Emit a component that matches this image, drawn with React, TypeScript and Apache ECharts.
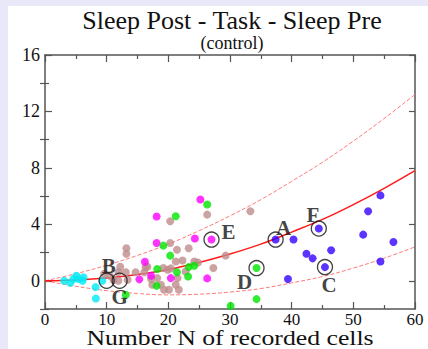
import React, { useEffect, useRef } from "react";
import * as echarts from "echarts";

// Fitted curves at x = 0, 5, ..., 60
const curveX = [0, 5, 10, 15, 20, 25, 30, 35, 40, 45, 50, 55, 60];
const meanCurve = [0, 0.06, 0.2, 0.45, 0.8, 1.3, 1.9, 2.6, 3.45, 4.35, 5.4, 6.55, 7.8];
const upperCurve = [0, 0.5, 1.1, 1.8, 2.6, 3.55, 4.6, 5.75, 7.05, 8.4, 9.9, 11.5, 13.2];
const lowerCurve = [0, -0.39, -0.7, -0.9, -1.0, -0.95, -0.8, -0.55, -0.15, 0.3, 0.9, 1.6, 2.4];

// Scatter groups [N, value]
const cyanPoints = [
  [3.1, 0], [4.1, -0.15], [4.6, 0.12], [5.1, 0.36], [5.45, 0.12], [6.1, 0],
  [6.25, 0.25], [8.2, -0.45], [8.25, -1.25], [9.3, 0],
];
const brownPoints = [
  [20.3, 4.22], [26.3, 4.69], [33.3, 4.93], [20.3, 2.68], [21.4, 2.2], [23.3, 2.3],
  [13.2, 2.3], [13.2, 1.92], [29.3, 1.78], [27.3, 0.9], [24.2, 1.37], [22.3, 1.44],
  [24.8, 1.3], [12.2, 1.0], [16.3, 0.97], [11.9, 0.6], [13.1, 0.6], [14.7, 0.6],
  [16.1, 0.6], [16.6, 1.0], [10.5, 0.35], [11.1, 0.05], [11.9, 0.0], [13.4, 0.07],
  [17.2, 0.12], [18.2, 0.19], [17.4, -0.28], [18.8, -0.28], [19.3, -0.64],
  [20.1, -0.64], [21.2, -0.28], [21.7, -0.64], [19.2, 0.9], [19.9, 0.78],
  [20.4, 0.88], [21.2, 1.37], [22.8, 0.66], [21.5, 0.19], [9.6, 0.5],
];
const magentaPoints = [
  [25.2, 5.76], [18.1, 4.55], [18.1, 2.68], [24.3, 3.0], [27.0, 2.92], [16.2, 1.35],
  [17.2, 0.36], [15.3, 0.1], [20.4, 0.19], [26.3, 0.17],
];
const greenPoints = [
  [26.3, 5.4], [21.2, 4.57], [19.2, 2.49], [20.3, 1.78], [18.2, 0.83], [21.4, 0.6],
  [23.3, 0.97], [24.2, 1.07], [18.1, -0.36], [23.2, 0.3], [13.1, -1.0], [30.1, -1.78],
  [34.3, 0.9], [34.3, -1.3],
];
const bluePoints = [
  [37.4, 2.92], [40.3, 2.92], [44.4, 3.7], [42.4, 1.92], [43.4, 1.59], [46.4, 2.16],
  [45.4, 0.97], [39.4, 0.12], [51.6, 3.27], [52.4, 4.93], [54.4, 6.05], [56.5, 2.75],
  [54.4, 1.37],
];

// Circled, lettered cases
const circledNames = ["A", "B", "C", "D", "E", "F", "G"];
const circledX = [37.4, 10.0, 45.4, 34.3, 27.0, 44.4, 12.1];
const circledY = [2.92, 0, 0.97, 0.9, 2.92, 3.7, 0];

// Ticks
const yMajorTicks = [0, 4, 8, 12, 16];
const yMinorTicks = [-2, 2, 6, 10, 14];

const titleText = "Sleep Post - Task - Sleep Pre";
const subtitleText = "(control)";
const xAxisTitle = "Number N of recorded cells";

// Style-only settings
const SERIF = "Liberation Serif";
const labelOffsets: Record<string, [number, number]> = {
  A: [8, -12], B: [2, -15], C: [4, 18], D: [-12, 14], E: [17, -8], F: [-6, -14], G: [0, 16],
};

export default function App() {
  const ref = useRef<HTMLDivElement>(null);

  useEffect(() => {
    if (!ref.current) return;
    const chart = echarts.init(ref.current, undefined, { renderer: "svg" });
    const axisLine = { show: true, onZero: false, lineStyle: { color: "#555", width: 1.5 } };
    const xBase = {
      type: "value" as const,
      min: 0,
      max: 60,
      interval: 10,
      axisLine,
      splitLine: { show: false },
      axisTick: { show: true, inside: true, length: 7, lineStyle: { color: "#555", width: 1.2 } },
      minorTick: { show: true, splitNumber: 2, length: 4, lineStyle: { color: "#555", width: 1.2 } },
    };
    const yBase = {
      type: "value" as const,
      min: -2,
      max: 16,
      splitLine: { show: false },
    };
    const mk = (pts: number[][], color: string, name: string) => ({
      type: "scatter" as const,
      name,
      data: pts,
      symbolSize: 8,
      itemStyle: { color },
      z: 3,
    });
    const curve = (vals: number[], dashed: boolean) => ({
      type: "line" as const,
      data: curveX.map((x, i) => [x, vals[i]]),
      smooth: 0.4,
      showSymbol: false,
      lineStyle: dashed
        ? { color: "#ff7a7a", width: 1, type: [4, 2] }
        : { color: "#ff1a1a", width: 1.5 },
      z: 2,
    });
    chart.setOption({
      animation: false,
      backgroundColor: "#ffffff",
      graphic: [
        {
          type: "text",
          x: 224,
          y: 14,
          style: {
            text: titleText,
            fontSize: 26,
            fontFamily: SERIF,
            fill: "#111",
            align: "center",
            verticalAlign: "middle",
          },
        },
        {
          type: "text",
          x: 224,
          y: 37,
          style: {
            text: subtitleText,
            fontSize: 18,
            fontFamily: SERIF,
            fill: "#111",
            align: "center",
            verticalAlign: "middle",
          },
        },
        {
          type: "text",
          x: 222,
          y: 332,
          scaleX: 1.17,
          style: {
            text: xAxisTitle,
            fontSize: 22,
            fontFamily: SERIF,
            fill: "#111",
            align: "center",
            verticalAlign: "middle",
          },
        },
      ],
      grid: { left: 37, right: 13, top: 49, bottom: 40, outerBoundsMode: "none", containLabel: false },
      xAxis: [
        {
          ...xBase,
          position: "bottom",
          axisLabel: { fontFamily: SERIF, fontSize: 17, color: "#111", margin: 2 },
        },
        { ...xBase, position: "top", axisLabel: { show: false } },
      ],
      yAxis: [
        {
          ...yBase,
          position: "left",
          axisLine,
          axisTick: {
            show: true, inside: true, length: 7, customValues: yMajorTicks,
            lineStyle: { color: "#555", width: 1.2 },
          },
          axisLabel: {
            fontFamily: SERIF, fontSize: 18, color: "#111", margin: 5,
            customValues: yMajorTicks,
          },
        },
        {
          ...yBase,
          position: "left",
          axisLine: { show: false },
          axisTick: {
            show: true, inside: true, length: 4, customValues: yMinorTicks,
            lineStyle: { color: "#555", width: 1.2 },
          },
          axisLabel: { show: false },
        },
        {
          ...yBase,
          position: "right",
          axisLine,
          axisTick: {
            show: true, inside: true, length: 6, customValues: yMajorTicks,
            lineStyle: { color: "#555", width: 1.2 },
          },
          axisLabel: { show: false },
        },
        {
          ...yBase,
          position: "right",
          axisLine: { show: false },
          axisTick: {
            show: true, inside: true, length: 5, customValues: yMinorTicks,
            lineStyle: { color: "#555", width: 1.2 },
          },
          axisLabel: { show: false },
        },
      ],
      series: [
        curve(upperCurve, true),
        curve(lowerCurve, true),
        curve(meanCurve, false),
        mk(cyanPoints, "#00eaf5", "cyan"),
        mk(brownPoints, "#bf8c8c", "brown"),
        mk(magentaPoints, "#ff00ff", "magenta"),
        mk(greenPoints, "#00e600", "green"),
        mk(bluePoints, "#3300ff", "blue"),
        {
          type: "scatter",
          name: "circled",
          z: 4,
          symbol: "circle",
          symbolSize: 15,
          itemStyle: { color: "rgba(0,0,0,0)", borderColor: "#111", borderWidth: 1.3 },
          data: circledNames.map((n, i) => ({
            name: n,
            value: [circledX[i], circledY[i]],
            label: {
              show: true,
              formatter: n,
              position: "inside",
              offset: labelOffsets[n],
              fontFamily: SERIF,
              fontWeight: "bold",
              fontSize: 21,
              color: "#111",
            },
          })),
        },
      ],
    });
    return () => chart.dispose();
  }, []);

  return (
    <div
      style={{
        position: "fixed",
        left: 0,
        top: 0,
        width: 428,
        height: 349,
        background: "#e8e8f8",
        overflow: "hidden",
      }}
    >
      <div
        ref={ref}
        style={{ position: "absolute", left: 8, top: 6, width: 420, height: 343, background: "#fff" }}
      />
    </div>
  );
}
